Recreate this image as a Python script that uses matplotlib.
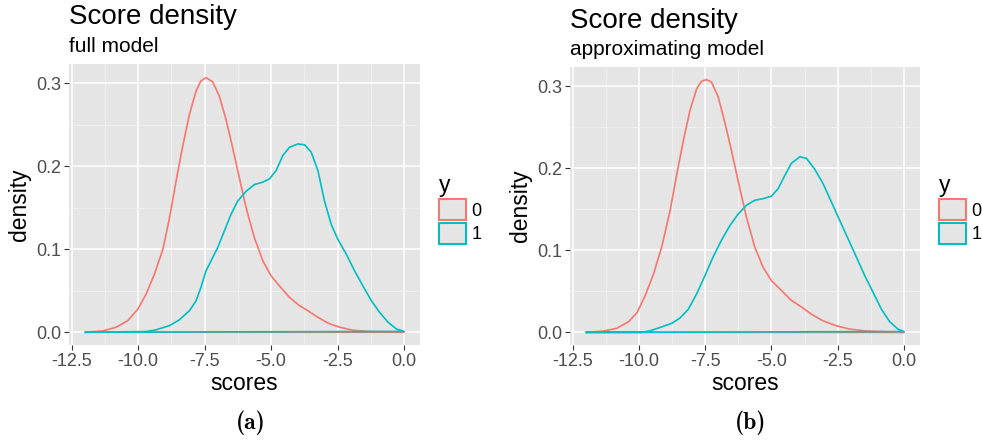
import matplotlib
matplotlib.use("Agg")
import matplotlib.pyplot as plt
from matplotlib.patches import Patch
from matplotlib.ticker import MultipleLocator, FormatStrFormatter

plt.rcParams['font.family'] = ['Liberation Sans', 'DejaVu Sans']

RED = '#F8766D'
TEAL = '#00BFC4'

# full model, y = 0
a0_x = [-12.0, -11.33, -10.83, -10.39, -10.01, -9.7, -9.39, -9.07, -8.82, -8.57, -8.32,
        -8.07, -7.82, -7.64, -7.45, -7.2, -6.95, -6.7, -6.45, -6.2, -5.94, -5.63, -5.31,
        -5.0, -4.69, -4.31, -3.93, -3.62, -3.24, -2.86, -2.42, -1.92, -1.29, 0.0]
a0_y = [0.0, 0.0016, 0.006, 0.014, 0.028, 0.046, 0.07, 0.1, 0.138, 0.183, 0.225,
        0.263, 0.291, 0.303, 0.307, 0.302, 0.285, 0.257, 0.223, 0.187, 0.15, 0.114, 0.086,
        0.068, 0.056, 0.042, 0.032, 0.026, 0.018, 0.011, 0.006, 0.0024, 0.0008, 0.0]
# full model, y = 1
a1_x = [-12.0, -9.7, -9.32, -8.82, -8.45, -8.07, -7.82, -7.64, -7.45, -7.26, -7.01,
        -6.76, -6.51, -6.26, -5.94, -5.63, -5.31, -5.06, -4.81, -4.56, -4.31, -4.0,
        -3.74, -3.49, -3.24, -2.99, -2.74, -2.49, -2.17, -1.86, -1.55, -1.23, -0.92,
        -0.6, -0.29, 0.0]
a1_y = [0.0, 0.0008, 0.003, 0.008, 0.015, 0.026, 0.038, 0.054, 0.074, 0.086, 0.102,
        0.122, 0.142, 0.158, 0.17, 0.178, 0.181, 0.185, 0.195, 0.213, 0.223, 0.227,
        0.226, 0.217, 0.195, 0.158, 0.13, 0.112, 0.094, 0.074, 0.056, 0.038, 0.024,
        0.012, 0.004, 0.001]

# approximating model, y = 0
b0_x = [-12.0, -11.33, -10.83, -10.39, -10.07, -9.76, -9.45, -9.14, -8.82, -8.57, -8.32,
        -8.07, -7.82, -7.64, -7.45, -7.26, -7.01, -6.76, -6.51, -6.26, -5.94, -5.63,
        -5.31, -5.0, -4.62, -4.25, -3.87, -3.49, -3.05, -2.55, -2.05, -1.42, 0.0]
b0_y = [0.0, 0.0016, 0.005, 0.013, 0.024, 0.045, 0.071, 0.104, 0.149, 0.193, 0.234,
        0.271, 0.297, 0.306, 0.308, 0.305, 0.287, 0.256, 0.222, 0.185, 0.14, 0.104,
        0.079, 0.063, 0.051, 0.039, 0.031, 0.022, 0.014, 0.008, 0.004, 0.0016, 0.0]
# approximating model, y = 1
b1_x = [-12.0, -9.89, -9.57, -9.2, -8.76, -8.45, -8.14, -7.82, -7.51, -7.2, -6.89,
        -6.57, -6.26, -5.94, -5.63, -5.31, -5.0, -4.75, -4.5, -4.25, -3.93, -3.68,
        -3.37, -3.05, -2.74, -2.42, -2.11, -1.8, -1.48, -1.17, -0.85, -0.54, -0.23, 0.0]
b1_y = [0.0, 0.0, 0.002, 0.006, 0.011, 0.0175, 0.028, 0.047, 0.069, 0.092, 0.112,
        0.13, 0.144, 0.155, 0.161, 0.163, 0.166, 0.175, 0.191, 0.206, 0.214, 0.212,
        0.199, 0.181, 0.159, 0.136, 0.114, 0.092, 0.069, 0.049, 0.028, 0.013, 0.004, 0.001]

subtitles = ['full model', 'approximating model']
captions = ['(a)', '(b)']
groups = ['0', '1']

fig = plt.figure(figsize=(9.82, 4.4), dpi=100)
axes = [fig.add_axes([0.0703, 0.2159, 0.3574, 0.6386]),
        fig.add_axes([0.5804, 0.2159, 0.3564, 0.6318])]
panels = [[(a0_x, a0_y), (a1_x, a1_y)], [(b0_x, b0_y), (b1_x, b1_y)]]
legend_x = [443 / 982, 943 / 982]
caption_x = [251 / 982, 751 / 982]

for i, ax in enumerate(axes):
    ax.set_facecolor('#E5E5E5')
    for (xs, ys), col in zip(panels[i], [RED, TEAL]):
        ax.fill(xs, ys, facecolor='none', edgecolor=col, lw=1.2, zorder=3,
                joinstyle='round')
    ax.set_xlim(-12.6, 0.6)
    ax.set_ylim(-0.0154, 0.3234)
    ax.xaxis.set_major_locator(MultipleLocator(2.5))
    ax.xaxis.set_minor_locator(MultipleLocator(1.25))
    ax.yaxis.set_major_locator(MultipleLocator(0.1))
    ax.yaxis.set_minor_locator(MultipleLocator(0.05))
    ax.xaxis.set_major_formatter(FormatStrFormatter('%.1f'))
    ax.yaxis.set_major_formatter(FormatStrFormatter('%.1f'))
    ax.grid(which='major', color='white', lw=1.1)
    ax.grid(which='minor', color='#F2F2F2', lw=0.55)
    ax.set_axisbelow(True)
    for s in ax.spines.values():
        s.set_visible(False)
    ax.tick_params(which='major', length=3.5, width=0.8, color='#333333',
                   labelsize=13, labelcolor='#4D4D4D', pad=2)
    ax.tick_params(which='minor', length=0)
    ax.set_xlabel('scores', fontsize=16.5, labelpad=2)
    ax.set_ylabel('density', fontsize=16.5, labelpad=4)
    ax.text(0, 1.12, 'Score density', transform=ax.transAxes, fontsize=20,
            ha='left', va='bottom')
    ax.text(0, 1.03, subtitles[i], transform=ax.transAxes, fontsize=15,
            ha='left', va='bottom')

    handles = [Patch(facecolor='#E5E5E5', edgecolor=c, lw=1.5) for c in [RED, TEAL]]
    leg = ax.legend(handles, groups, title='y', loc='upper left',
                    bbox_to_anchor=(legend_x[i] - 0.008, 1 - 170 / 440),
                    bbox_transform=fig.transFigure, frameon=False,
                    fontsize=13, title_fontsize=16.5, handlelength=1.5,
                    handleheight=1.4, handletextpad=0.3, labelspacing=0.15,
                    borderpad=0.2, borderaxespad=0)
    leg._legend_box.align = 'left'

    fig.text(caption_x[i], 0.039, captions[i], family='cmb10',
             ha='center', va='center', fontsize=17)

fig.savefig('out.png', dpi=100)
